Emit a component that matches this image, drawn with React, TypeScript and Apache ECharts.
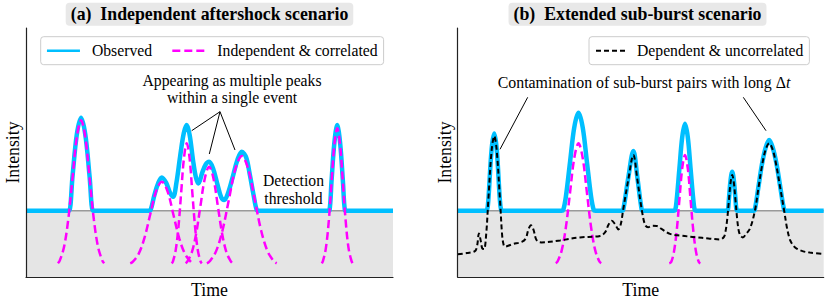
import React, { useEffect, useRef } from 'react';
import * as echarts from 'echarts';

const FONT = 'Liberation Serif, Times New Roman, serif';

// Threshold level (data units, axis 0..100)
const THRESHOLD = 26.6;

// ---------- Panel (a): Independent aftershock scenario ----------
const aObserved: number[][] = [
  [0, 26.6], [11.2, 26.6], [11.76, 26.6], [12.68, 40.5], [13.84, 57.2], [15.0, 64.0], [16.16, 57.2], [17.32, 40.5], [18.24, 26.6], [18.8, 26.6],
  [33.4, 26.6], [33.9, 26.8], [35.0, 33.0], [36.0, 37.6], [37.0, 40.0], [38.2, 37.8], [39.3, 33.6], [40.1, 32.2], [41.0, 38.0], [42.0, 48.5],
  [43.0, 57.8], [43.8, 61.0], [44.6, 57.0], [45.5, 47.0], [46.3, 40.0], [47.0, 37.6], [48.0, 41.8], [49.0, 45.3], [49.9, 46.3], [51.0, 43.5],
  [52.2, 37.0], [53.2, 32.0], [54.0, 30.9], [55.0, 33.5], [56.3, 40.0], [57.6, 47.0], [58.8, 50.3], [60.0, 48.0], [61.0, 41.0], [62.0, 33.0],
  [62.9, 26.8], [63.4, 26.6],
  [82.2, 26.6], [82.7, 26.8], [83.25, 38.5], [84.03, 54.0], [84.8, 61.0], [85.58, 54.0], [86.35, 38.5], [86.9, 26.8], [87.4, 26.6], [100, 26.6],
];
const aIndep1: number[][] = [[8.7, 5.5], [9.2, 6.6], [10.36, 12.0], [11.52, 23.2], [12.68, 39.8], [13.84, 56.1], [15.0, 63.0], [16.16, 56.1], [17.32, 39.8], [18.48, 23.2], [19.64, 12.0], [20.8, 6.6], [21.3, 5.5]];
const aIndep2: number[][] = [[28.4, 5.5], [29.07, 6.1], [30.66, 9.2], [32.24, 15.5], [33.83, 25.0], [35.41, 34.3], [37.0, 38.3], [38.59, 34.3], [40.17, 25.0], [41.76, 15.5], [43.34, 9.2], [44.93, 6.1], [45.6, 5.5]];
const aIndep3: number[][] = [[39.7, 5.5], [40.03, 6.2], [40.78, 10.7], [41.54, 20.1], [42.29, 34.1], [43.05, 47.9], [43.8, 53.7], [44.56, 47.9], [45.31, 34.1], [46.07, 20.1], [46.82, 10.7], [47.58, 6.2], [47.9, 5.5]];
const aIndep4: number[][] = [[43.5, 5.5], [44.0, 6.3], [45.18, 9.9], [46.36, 17.4], [47.54, 28.6], [48.72, 39.6], [49.9, 44.3], [51.08, 39.6], [52.26, 28.6], [53.44, 17.4], [54.62, 9.9], [55.8, 6.3], [56.3, 5.5]];
const aIndep5: number[][] = [[49.3, 5.5], [50.05, 6.3], [51.8, 10.4], [53.55, 18.8], [55.3, 31.2], [57.05, 43.4], [58.8, 48.6], [60.55, 43.4], [62.3, 31.2], [64.05, 18.8], [65.8, 10.4], [67.55, 6.3], [68.3, 5.5]];
const aIndep6: number[][] = [[80.6, 5.5], [80.93, 6.5], [81.7, 11.5], [82.48, 22.1], [83.25, 37.8], [84.03, 53.2], [84.8, 59.7], [85.58, 53.2], [86.35, 37.8], [87.13, 22.1], [87.9, 11.5], [88.68, 6.5], [89.0, 5.5]];

// ---------- Panel (b): Extended sub-burst scenario ----------
const bObserved: number[][] = [
  [0, 26.6], [7.6, 26.6], [8.05, 27.0], [8.4, 31.5], [9.28, 51.5], [10.0, 57.6], [10.65, 51.5], [11.5, 31.5], [11.85, 27.0], [12.3, 26.6],
  [28.4, 26.6], [28.85, 27.0], [29.57, 32.4], [30.71, 46.4], [31.86, 60.2], [33.0, 66.0], [34.14, 60.2], [35.29, 46.4], [36.43, 32.4], [37.15, 27.0], [37.6, 26.6],
  [44.8, 26.6], [45.25, 27.2], [46.6, 39.8], [48.0, 50.6], [49.1, 39.8], [50.25, 27.2], [50.7, 26.6],
  [59.0, 26.6], [59.45, 27.0], [59.84, 31.1], [60.59, 43.8], [61.35, 56.2], [62.1, 61.5], [62.86, 56.2], [63.61, 43.8], [64.37, 31.1], [64.75, 27.0], [65.2, 26.6],
  [73.5, 26.6], [73.85, 27.2], [74.1, 31.2], [74.55, 38.8], [75.0, 42.3], [75.45, 38.8], [75.9, 31.2], [76.15, 27.2], [76.5, 26.6],
  [80.8, 26.6], [81.2, 27.2], [82.2, 36.5], [83.1, 45.0], [84.1, 51.8], [85.1, 55.0], [86.1, 51.8], [87.1, 45.5], [88.1, 36.5], [89.15, 27.2], [89.6, 26.6], [100, 26.6],
];
const bIndep1: number[][] = [[26.8, 5.5], [27.28, 6.2], [28.42, 10.7], [29.57, 20.1], [30.71, 34.1], [31.86, 47.9], [33.0, 53.7], [34.14, 47.9], [35.29, 34.1], [36.43, 20.1], [37.58, 10.7], [38.72, 6.2], [39.2, 5.5]];
const bIndep2: number[][] = [[57.8, 5.5], [58.33, 6.0], [59.08, 10.1], [59.84, 18.6], [60.59, 31.3], [61.35, 43.7], [62.1, 49.0], [62.86, 43.7], [63.61, 31.3], [64.37, 18.6], [65.12, 10.1], [65.88, 6.0], [66.3, 5.5]];
const bDependent: number[][] = [
  [0, 9.1], [2.5, 9.6], [4.7, 10.4], [5.3, 12.5], [5.8, 17.5], [6.3, 14.5], [6.7, 11.5], [7.2, 11.2], [7.8, 17.5], [8.37, 30.9],
  [9.28, 51.0], [10.0, 56.6], [10.65, 51.0], [11.56, 30.9], [12.1, 17.5], [12.46, 13.5], [12.9, 12.2], [15.0, 13.2], [17.5, 14.1], [18.6, 15.5],
  [19.3, 19.0], [20.0, 20.8], [20.7, 19.0], [21.4, 15.2], [22.1, 14.1], [22.9, 13.9], [28.0, 14.7], [33.4, 15.9], [38.9, 16.5], [40.3, 18.0],
  [41.2, 21.0], [42.1, 22.6], [43.0, 21.2], [43.9, 19.1], [44.6, 21.5], [45.2, 26.9], [46.6, 39.0], [48.0, 49.0], [49.1, 39.0], [50.3, 26.9],
  [51.2, 20.9], [52.0, 20.0], [53.2, 20.6], [54.4, 20.5], [55.8, 19.2], [58.0, 17.3], [61.0, 16.6], [65.0, 16.0], [68.5, 15.5], [71.7, 15.1],
  [72.75, 16.1], [73.2, 18.5], [73.65, 23.4], [74.1, 30.8], [74.55, 37.9], [75.0, 41.0], [75.45, 37.9], [75.9, 30.8], [76.35, 23.4], [76.8, 18.5],
  [77.3, 16.5], [77.9, 15.9], [78.8, 17.3], [79.9, 19.6], [81.2, 26.6], [82.2, 36.0], [83.1, 44.3], [84.1, 51.0], [85.1, 53.7], [86.1, 51.0],
  [87.1, 44.5], [88.1, 36.0], [89.2, 26.6], [90.0, 19.5], [90.8, 14.9], [91.7, 12.6], [92.6, 11.4], [94.4, 10.3], [96.2, 9.8], [100, 9.2],
];

const SERIES_NAMES = ['Observed', 'Independent & correlated', 'Dependent & uncorrelated'];
const TITLES = ['(a)  Independent aftershock scenario', '(b)  Extended sub-burst scenario'];

const CYAN = '#00bfff';
const MAGENTA = '#ff00ff';

function line(name: string, data: number[][], gi: number, color: string, width: number, dash: any, z: number) {
  return {
    type: 'line', name, data, xAxisIndex: gi, yAxisIndex: gi, symbol: 'none', smooth: 0.35,
    lineStyle: { color, width, type: dash }, itemStyle: { color }, z, silent: true,
  };
}

function thresholdSeries(gi: number) {
  return {
    type: 'line', name: 'threshold', data: [[0, THRESHOLD], [100, THRESHOLD]], xAxisIndex: gi, yAxisIndex: gi,
    symbol: 'none', lineStyle: { color: '#9a9a9a', width: 1.5 }, areaStyle: { color: '#e5e5e5', opacity: 1 }, z: 1, silent: true,
  };
}

export default function App() {
  const ref = useRef<HTMLDivElement>(null);
  useEffect(() => {
    const chart = echarts.init(ref.current!, null, { renderer: 'svg', width: 830, height: 304 });
    const grids = [
      { left: 26, top: 28, width: 367, height: 249 },
      { left: 457.7, top: 28, width: 366, height: 249 },
    ];
    const axisCommon = {
      type: 'value', min: 0, max: 100, z: 10,
      axisLine: { show: true, onZero: false, lineStyle: { color: '#222', width: 1.2 } },
      axisTick: { show: false }, axisLabel: { show: false }, splitLine: { show: false },
      nameLocation: 'middle',
      nameTextStyle: { fontFamily: FONT, fontSize: 17.8, color: '#000' },
    };
    const legendCommon = {
      orient: 'horizontal', itemHeight: 14, borderColor: '#cccccc', borderWidth: 1, borderRadius: 3,
      backgroundColor: '#fff', selectedMode: false,
      itemStyle: { opacity: 0 },
      textStyle: { fontFamily: FONT, fontSize: 15.7, color: '#000', padding: [0, 0, 0, 7] },
    };
    const textStyle = (text: string, size: number, extra: any = {}) => ({
      text, fontFamily: FONT, fontSize: size, fill: '#000',
      align: 'center', verticalAlign: 'middle', textAlign: 'center', textVerticalAlign: 'middle', ...extra,
    });
    const ln = (x1: number, y1: number, x2: number, y2: number) => ({
      type: 'line', shape: { x1, y1, x2, y2 }, style: { stroke: '#000', lineWidth: 1 }, z: 20,
    });
    const option: any = {
      animation: false,
      backgroundColor: '#fff',
      grid: grids,
      xAxis: [0, 1].map((i) => ({ ...axisCommon, gridIndex: i, name: 'Time', nameGap: 4 })),
      yAxis: [0, 1].map((i) => ({ ...axisCommon, gridIndex: i, name: 'Intensity', nameGap: 4, nameRotate: 90 })),
      legend: [
        { ...legendCommon, data: [SERIES_NAMES[0], SERIES_NAMES[1]], left: 40.7, top: 36.7, itemWidth: 33, itemGap: 19, padding: [6, 6, 6, 5], lineStyle: { width: 2.5 } },
        { ...legendCommon, data: [SERIES_NAMES[2]], left: 589, top: 36.7, itemWidth: 29, itemGap: 10, padding: [6, 6, 6, 6], lineStyle: { width: 2 } },
      ],
      series: [
        thresholdSeries(0),
        line(SERIES_NAMES[0], aObserved, 0, CYAN, 4.5, 'solid', 2),
        ...[aIndep1, aIndep2, aIndep3, aIndep4, aIndep5, aIndep6].map((d) => line(SERIES_NAMES[1], d, 0, MAGENTA, 2.5, [8, 4], 3)),
        thresholdSeries(1),
        line(SERIES_NAMES[0], bObserved, 1, CYAN, 4.5, 'solid', 2),
        ...[bIndep1, bIndep2].map((d) => line(SERIES_NAMES[1], d, 1, MAGENTA, 2.5, [8, 4], 3)),
        line(SERIES_NAMES[2], bDependent, 1, '#000', 2, [5, 3], 4),
      ],
      graphic: {
        elements: [
          { type: 'text', x: 209.5, y: 14.3, z: 20, style: textStyle(TITLES[0], 17.8, { fontWeight: 'bold', backgroundColor: '#e8e8e8', padding: [3, 5, 2, 5], borderRadius: 4 }) },
          { type: 'text', x: 637.5, y: 14.3, z: 20, style: textStyle(TITLES[1], 17.8, { fontWeight: 'bold', backgroundColor: '#e8e8e8', padding: [3, 5, 2, 5], borderRadius: 4 }) },
          { type: 'text', x: 232, y: 80, z: 20, style: textStyle('Appearing as multiple peaks', 15.7) },
          { type: 'text', x: 232, y: 97.5, z: 20, style: textStyle('within a single event', 15.7) },
          { type: 'text', x: 293.5, y: 180, z: 20, style: textStyle('Detection', 15.7) },
          { type: 'text', x: 293.5, y: 198, z: 20, style: textStyle('threshold', 15.7) },
          {
            type: 'text', x: 644, y: 82.5, z: 20,
            style: textStyle('Contamination of sub-burst pairs with long Δ{it|t}', 15.9, {
              rich: { it: { fontFamily: FONT, fontSize: 15.9, fontStyle: 'italic', fill: '#000' } },
            }),
          },
          ln(220, 111.7, 191.7, 130.7),
          ln(220, 111.7, 209.3, 154),
          ln(220, 111.7, 235, 150),
          ln(527.7, 97.3, 500, 149.3),
          ln(743.3, 97.3, 766, 130.7),
        ],
      },
    };
    chart.setOption(option);
    return () => chart.dispose();
  }, []);
  return <div ref={ref} style={{ position: 'fixed', left: 0, top: 0, width: 830, height: 304, background: '#fff' }} />;
}
